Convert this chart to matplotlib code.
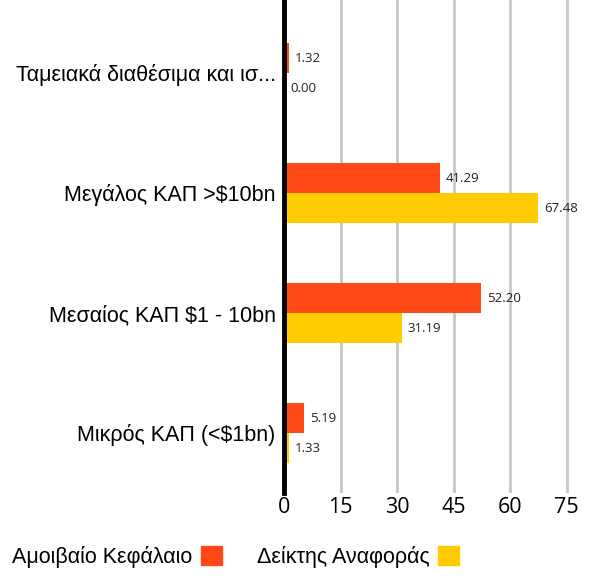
import matplotlib
matplotlib.use("Agg")
import matplotlib.pyplot as plt
import matplotlib.patches as mpatches
import numpy as np

# data
categories = ["Ταμειακά διαθέσιμα και ισ...", "Μεγάλος ΚΑΠ >$10bn",
              "Μεσαίος ΚΑΠ $1 - 10bn", "Μικρός ΚΑΠ (<$1bn)"]
fund = [1.32, 41.29, 52.20, 5.19]
bench = [0.00, 67.48, 31.19, 1.33]
series_names = ["Αμοιβαίο Κεφάλαιο", "Δείκτης Αναφοράς"]
xticks = [0, 15, 30, 45, 60, 75]

orange = "#FF4A17"
yellow = "#FFCC00"

fig = plt.figure(figsize=(5.95, 5.76), dpi=100)
ax = fig.add_axes([284 / 595, 1 - 493 / 576, (578 - 284) / 595, 493 / 576])

y = np.arange(len(categories))
h = 0.25
b1 = ax.barh(y - h / 2, fund, height=h, color=orange, zorder=3)
b2 = ax.barh(y + h / 2, bench, height=h, color=yellow, zorder=3)

for bars, vals in [(b1, fund), (b2, bench)]:
    for bar, v in zip(bars, vals):
        ax.annotate(f"{v:.2f}", (v, bar.get_y() + bar.get_height() / 2),
                    xytext=(4.5, 0), textcoords="offset points",
                    va="center", ha="left", fontsize=9.5,
                    family="Open Sans", color="#222222")

ax.set_xlim(0, 78)
ax.set_ylim(3.5, -0.5 - 13 / 120)
ax.set_xticks(xticks)
ax.set_xticklabels([str(t) for t in xticks], family="Open Sans", fontsize=15.5)
ax.set_yticks(y)
ax.set_yticklabels(categories, family="Liberation Sans", fontsize=15.5)
ax.tick_params(axis="both", length=0)
ax.tick_params(axis="y", pad=6)
ax.tick_params(axis="x", pad=3)

ax.grid(axis="x", color="#C8C8C8", linewidth=2, zorder=0)
for s in ["top", "right", "bottom"]:
    ax.spines[s].set_visible(False)
ax.spines["left"].set_linewidth(3.5)
ax.spines["left"].set_zorder(4)

handles = [mpatches.Patch(color=orange), mpatches.Patch(color=yellow)]
fig.legend(handles, series_names, loc="center", bbox_to_anchor=(0.396, 1 - 557 / 576),
           ncol=2, frameon=False, markerfirst=False,
           prop={"family": "Liberation Sans", "size": 15.5},
           handlelength=0.95, handleheight=0.95, handletextpad=0.4, columnspacing=1.65)

fig.savefig("out.png", dpi=100)
